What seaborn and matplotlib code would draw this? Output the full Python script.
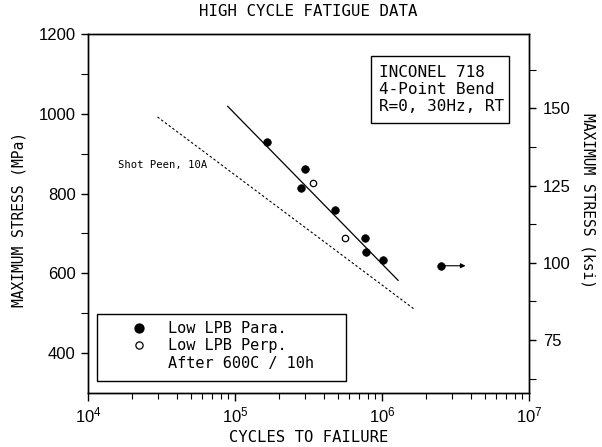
import numpy as np
import matplotlib
matplotlib.use("Agg")
import matplotlib.pyplot as plt
import seaborn as sns
from matplotlib.lines import Line2D
from matplotlib.patches import Rectangle
from matplotlib.ticker import FixedLocator, FuncFormatter, LogLocator, NullFormatter

# ---------------- data ----------------
para_cycles = [1.65e5, 2.98e5, 2.83e5, 4.78e5, 7.65e5, 7.8e5, 1.01e6, 2.52e6]
para_stress = [929, 861, 813, 758, 689, 654, 633, 619]
perp_cycles = [3.38e5, 5.58e5]
perp_stress = [826, 689]
runout_cycles = [2.52e6]
runout_stress = [619]
runout_arrow_end = [3.7e6]
fit_cycles = [8.9e4, 1.29e6]
fit_stress = [1019, 582]
peen_cycles = [2.97e4, 1.66e6]
peen_stress = [992, 510]
mpa_ticks = [400, 600, 800, 1000, 1200]
ksi_ticks = [75, 100, 125, 150]
x_ticks = [1e4, 1e5, 1e6, 1e7]
legend_labels = ["Low LPB Para.", "Low LPB Perp.", "After 600C / 10h"]
info_lines = ["INCONEL 718", "4-Point Bend", "R=0, 30Hz, RT"]

# ---------------- style ----------------
sns.set_theme(style="ticks")
plt.rcParams["font.family"] = ["DejaVu Sans Mono", "DejaVu Sans"]
plt.rcParams["mathtext.fontset"] = "custom"
plt.rcParams["mathtext.rm"] = "Liberation Sans"
plt.rcParams["mathtext.it"] = "Liberation Sans"
plt.rcParams["mathtext.bf"] = "Liberation Sans"
plt.rcParams["mathtext.default"] = "rm"
plt.rcParams["axes.linewidth"] = 1.0
plt.rcParams["text.color"] = "black"
plt.rcParams["axes.labelcolor"] = "black"
plt.rcParams["xtick.color"] = "black"
plt.rcParams["ytick.color"] = "black"
plt.rcParams["axes.edgecolor"] = "black"

fig = plt.figure(figsize=(6.02, 4.47), dpi=100)
ax = fig.add_axes([88 / 602, 1 - 393 / 447, 441 / 602, 359 / 447])

sns.lineplot(x=fit_cycles, y=fit_stress, ax=ax, color="black", lw=0.9)
sns.lineplot(x=peen_cycles, y=peen_stress, ax=ax, color="black", lw=0.8,
             linestyle=(0, (2.2, 2)))
sns.scatterplot(x=para_cycles, y=para_stress, ax=ax, color="black", s=30,
                marker="o", edgecolor="black", linewidth=0.5, zorder=5)
sns.scatterplot(x=perp_cycles, y=perp_stress, ax=ax, color="white", s=21,
                marker="o", edgecolor="black", linewidth=0.9, zorder=5)
for xs, xe, yv in zip(runout_cycles, runout_arrow_end, runout_stress):
    ax.annotate("", xy=(xe, yv), xytext=(xs, yv),
                arrowprops=dict(arrowstyle="-|>", color="black", lw=0.8,
                                mutation_scale=7, shrinkA=0, shrinkB=0))

ax.set_xscale("log")
ax.set_xlim(1e4, 1e7)
ax.set_ylim(300, 1200)
ax.xaxis.set_major_locator(FixedLocator(x_ticks))
ax.xaxis.set_major_formatter(FuncFormatter(lambda v, p: r"$10^{%d}$" % round(np.log10(v))))
ax.xaxis.set_minor_locator(LogLocator(base=10, subs=np.arange(2, 10)))
ax.xaxis.set_minor_formatter(NullFormatter())
ax.yaxis.set_major_locator(FixedLocator(mpa_ticks))
ax.yaxis.set_minor_locator(FixedLocator([500, 700, 900, 1100]))

ax.tick_params(axis="both", which="major", direction="out", length=5, width=1,
               labelsize=12, labelfontfamily="Liberation Sans", colors="black")
ax.tick_params(axis="x", which="major", length=6, pad=3)
ax.tick_params(axis="x", which="minor", direction="out", length=4, width=0.8)
ax.tick_params(axis="y", which="minor", direction="out", length=5, width=0.8)
ax.tick_params(axis="y", which="major", pad=4)
ax.tick_params(top=False, right=False, which="both")
for s in ax.spines.values():
    s.set_color("black")
    s.set_linewidth(1.0)

ax.set_xlabel("CYCLES TO FAILURE", fontsize=11.2, labelpad=3)
ax.set_ylabel("MAXIMUM STRESS (MPa)", fontsize=10.5)
ax.yaxis.set_label_coords(-0.14, 0.482)
ax.set_title("HIGH CYCLE FATIGUE DATA", fontsize=11.3, pad=13)

ax2 = ax.twinx()
ax2.set_ylim(57.84, 174.05)
ax2.yaxis.set_major_locator(FixedLocator(ksi_ticks))
ax2.yaxis.set_minor_locator(FixedLocator([62.5, 87.5, 112.5, 137.5, 162.5]))
ax2.tick_params(axis="y", which="major", direction="out", length=5, width=1,
                labelsize=12, labelfontfamily="Liberation Sans", pad=5,
                colors="black")
ax2.tick_params(axis="y", which="minor", direction="out", length=5, width=0.8)
ax2.set_ylabel("MAXIMUM STRESS (ksi)", fontsize=10.5, rotation=270)
ax2.yaxis.set_label_coords(1.15, 0.535)
for s in ax2.spines.values():
    s.set_color("black")
    s.set_linewidth(1.0)

# annotation text
ax.text(0.068, 0.635, "Shot Peen, 10A", transform=ax.transAxes, fontsize=7.6,
        va="center", ha="left")

# info box
ax.add_patch(Rectangle((0.6417, 0.752), 0.313, 0.1866, transform=ax.transAxes,
                       fill=False, edgecolor="black", lw=1.0, zorder=6))
for i, line in enumerate(info_lines):
    ax.text((379 - 88) / 441, (393 - (73 + 17 * i)) / 359, line,
            transform=ax.transAxes, fontsize=11.5, va="center", ha="left")

# legend box
ax.add_patch(Rectangle((0.0204, 0.034), 0.5646, 0.1866, transform=ax.transAxes,
                       fill=False, edgecolor="black", lw=1.0, zorder=6))
handles = [
    Line2D([], [], linestyle="none", marker="o", markersize=6.4,
           markerfacecolor="black", markeredgecolor="black"),
    Line2D([], [], linestyle="none", marker="o", markersize=5.2,
           markerfacecolor="white", markeredgecolor="black", markeredgewidth=0.9),
    Line2D([], [], linestyle="none"),
]
leg = ax.legend(handles, legend_labels, loc="upper left",
                bbox_to_anchor=(0.0989, 0.2006), borderaxespad=0, borderpad=0,
                frameon=False, handlelength=1.0, handletextpad=1.4,
                labelspacing=0.15,
                prop={"family": "DejaVu Sans Mono", "size": 11})
for t in leg.get_texts():
    t.set_color("black")

fig.savefig("out.png", dpi=100)
